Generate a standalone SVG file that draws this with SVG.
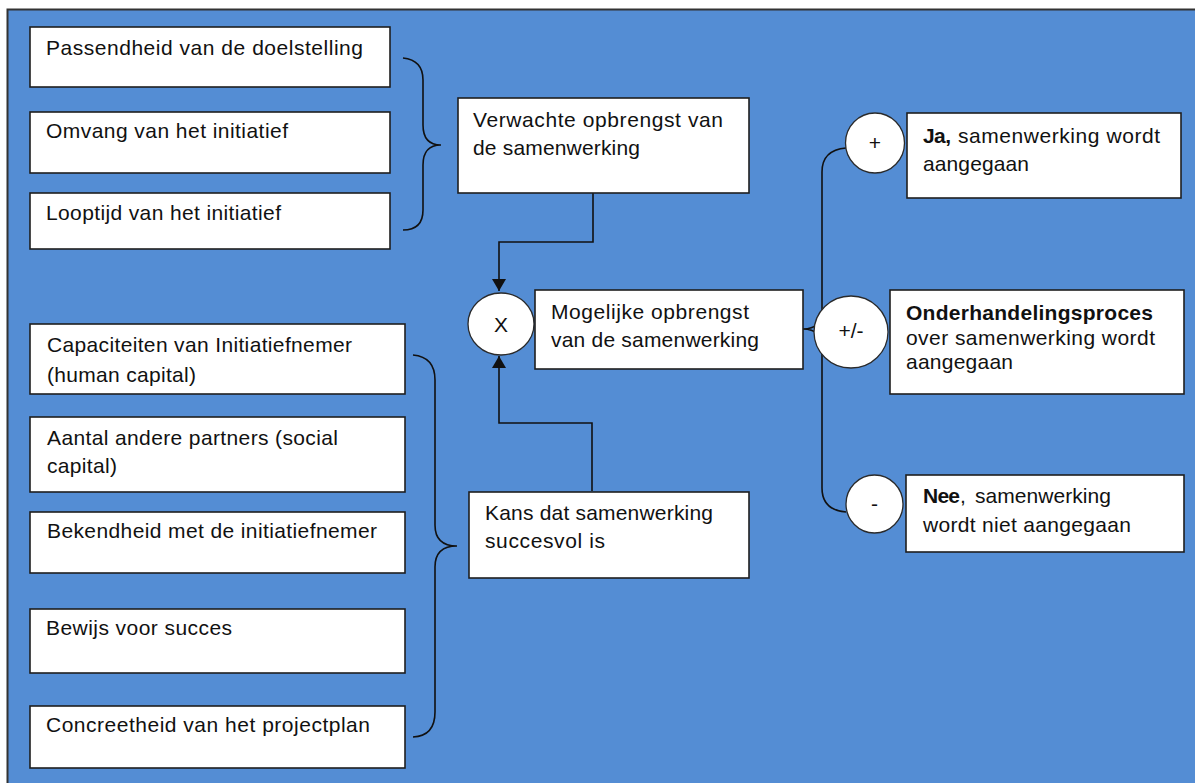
<svg xmlns="http://www.w3.org/2000/svg" width="1195" height="783" viewBox="0 0 1195 783">
<style>
.box{fill:#fff;stroke:#1e1e1e;stroke-width:1.6}
.circ{fill:#fff;stroke:#2a2a2a;stroke-width:1.3}
.t{font-family:"Liberation Sans",Arial,sans-serif;font-size:21px;fill:#111}
.b{font-weight:bold}
.c{text-anchor:middle}
.ln{fill:none;stroke:#111;stroke-width:1.6}
</style>
<defs>
<marker id="ah" viewBox="0 0 12 14" refX="12" refY="7" markerWidth="12" markerHeight="14" markerUnits="userSpaceOnUse" orient="auto">
<path d="M0,0 L12,7 L0,14 Z" fill="#111"/>
</marker>
</defs>
<rect x="0" y="0" width="1195" height="783" fill="#fff"/>
<rect x="7.5" y="9.5" width="1200" height="800" fill="#548DD4" stroke="#333" stroke-width="2"/>

<g id="connectors">
<path class="ln" d="M403,58 Q423,60 423,80 L423,125 Q423,145 441,145 Q423,145 423,165 L423,210 Q423,230 403,230"/>
<path class="ln" d="M413,355 Q435,357 435,380 L435,525 Q435,546 457,546 Q435,546 435,567 L435,712 Q435,736 413,737"/>
<path class="ln" d="M593,193 L593,242 L499,242 L499,291" marker-end="url(#ah)"/>
<path class="ln" d="M592,491 L592,423 L499,423 L499,356" marker-end="url(#ah)"/>
<path class="ln" d="M846,148 Q822,150 822,172 L822,310 Q822,329 803,329 Q822,329 822,348 L822,488 Q822,510 846,512"/>
</g>

<g id="n-passendheid"><rect class="box" x="30" y="27" width="360" height="60"/><text class="t" x="46" y="55" textLength="317" lengthAdjust="spacing">Passendheid van de doelstelling</text></g>
<g id="n-omvang"><rect class="box" x="30" y="112" width="360" height="61"/><text class="t" x="46" y="138" textLength="242" lengthAdjust="spacing">Omvang van het initiatief</text></g>
<g id="n-looptijd"><rect class="box" x="30" y="193" width="360" height="56"/><text class="t" x="46" y="220" textLength="235" lengthAdjust="spacing">Looptijd van het initiatief</text></g>

<g id="n-verwachte"><rect class="box" x="458" y="98" width="291" height="95"/><text class="t" x="473" y="127" textLength="250" lengthAdjust="spacing">Verwachte opbrengst van</text><text class="t" x="473" y="155" textLength="167" lengthAdjust="spacing">de samenwerking</text></g>

<g id="n-x"><ellipse class="circ" cx="501" cy="324" rx="33" ry="31"/><text class="t c" x="501" y="332">X</text></g>

<g id="n-mogelijke"><rect class="box" x="535" y="290" width="268" height="79"/><text class="t" x="551" y="319" textLength="198" lengthAdjust="spacing">Mogelijke opbrengst</text><text class="t" x="551" y="347" textLength="208" lengthAdjust="spacing">van de samenwerking</text></g>

<g id="n-kans"><rect class="box" x="469" y="492" width="280" height="86"/><text class="t" x="485" y="520" textLength="228" lengthAdjust="spacing">Kans dat samenwerking</text><text class="t" x="485" y="548" textLength="120" lengthAdjust="spacing">succesvol is</text></g>

<g id="n-capaciteiten"><rect class="box" x="30" y="324" width="375" height="70"/><text class="t" x="47" y="352" textLength="305" lengthAdjust="spacing">Capaciteiten van Initiatiefnemer</text><text class="t" x="47" y="382" textLength="149" lengthAdjust="spacing">(human capital)</text></g>
<g id="n-aantal"><rect class="box" x="30" y="417" width="375" height="75"/><text class="t" x="47" y="445" textLength="291" lengthAdjust="spacing">Aantal andere partners (social</text><text class="t" x="47" y="473" textLength="70" lengthAdjust="spacing">capital)</text></g>
<g id="n-bekendheid"><rect class="box" x="30" y="512" width="375" height="61"/><text class="t" x="47" y="538" textLength="330" lengthAdjust="spacing">Bekendheid met de initiatiefnemer</text></g>
<g id="n-bewijs"><rect class="box" x="30" y="609" width="375" height="64"/><text class="t" x="46" y="635" textLength="186" lengthAdjust="spacing">Bewijs voor succes</text></g>
<g id="n-concreetheid"><rect class="box" x="30" y="706" width="375" height="62"/><text class="t" x="46" y="732" textLength="324" lengthAdjust="spacing">Concreetheid van het projectplan</text></g>

<g id="n-plus"><ellipse class="circ" cx="875" cy="143" rx="29.5" ry="30"/><text class="t c" x="875" y="150">+</text></g>
<g id="n-ja"><rect class="box" x="907" y="113" width="274" height="85"/><text class="t b" x="923" y="143" textLength="28" lengthAdjust="spacing">Ja,</text><text class="t" x="958" y="143" textLength="202" lengthAdjust="spacing">samenwerking  wordt</text><text class="t" x="923" y="171" textLength="106" lengthAdjust="spacing">aangegaan</text></g>

<g id="n-plusmin"><ellipse class="circ" cx="851" cy="332" rx="37" ry="36"/><text class="t c" x="851" y="338">+/-</text></g>
<g id="n-onderhandeling"><rect class="box" x="890" y="290" width="294" height="104"/><text class="t b" x="906" y="320" textLength="247" lengthAdjust="spacing">Onderhandelingsproces</text><text class="t" x="906" y="345" textLength="249" lengthAdjust="spacing">over samenwerking  wordt</text><text class="t" x="906" y="369" textLength="107" lengthAdjust="spacing">aangegaan</text></g>

<g id="n-min"><ellipse class="circ" cx="874.5" cy="504" rx="28.5" ry="29"/><text class="t c" x="874.5" y="511">-</text></g>
<g id="n-nee"><rect class="box" x="906" y="475" width="278" height="77"/><text class="t b" x="923" y="503" textLength="37" lengthAdjust="spacing">Nee</text><text class="t" x="960" y="503">,</text><text class="t" x="975" y="503" textLength="136" lengthAdjust="spacing">samenwerking</text><text class="t" x="923" y="532" textLength="208" lengthAdjust="spacing">wordt niet aangegaan</text></g>
</svg>
